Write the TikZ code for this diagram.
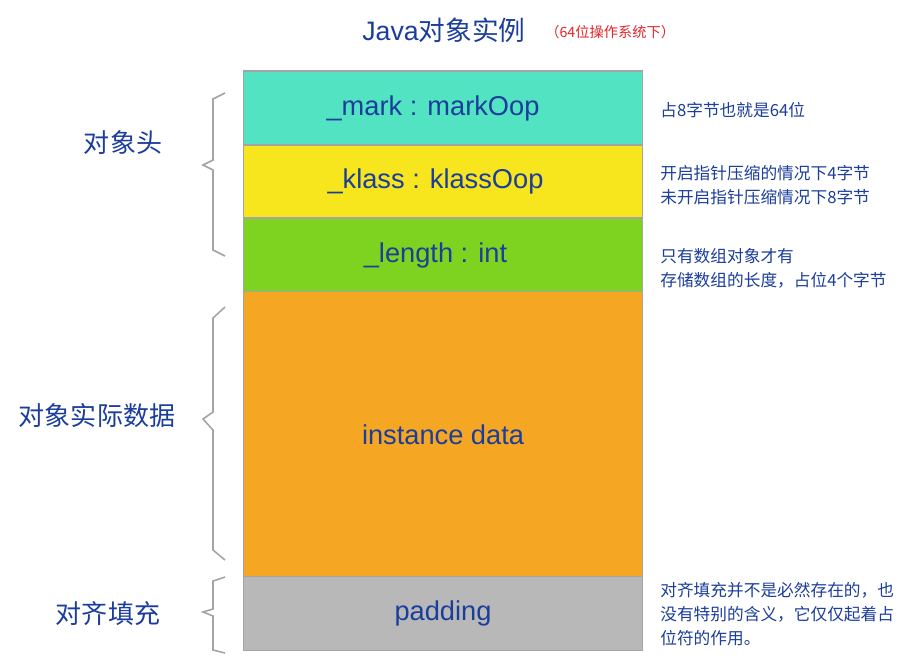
\documentclass[tikz,border=0pt]{standalone}
\usepackage{fontspec}
\setmainfont{Liberation Sans}
\newfontfamily\cjk{Noto Sans CJK SC}
\usetikzlibrary{positioning}

\definecolor{inkblue}{HTML}{1B3D9B}
\definecolor{notered}{HTML}{E0262B}
\definecolor{edgegray}{HTML}{A4A4A4}
\definecolor{markfill}{HTML}{52E3C2}
\definecolor{klassfill}{HTML}{F7E51E}
\definecolor{lengthfill}{HTML}{7ED321}
\definecolor{datafill}{HTML}{F5A623}
\definecolor{padfill}{HTML}{B8B8B8}

\tikzset{
    row/.style={rectangle, draw=edgegray, line width=0.6pt, outer sep=0pt,
        minimum width=7.98cm, text=inkblue, font=\fontsize{15.5}{18}\selectfont},
    note/.style={anchor=west, inner sep=0pt, align=left, text=inkblue,
        font=\cjk\fontsize{9.5}{13.6}\selectfont},
    part/.style={text=inkblue, inner sep=0pt, font=\cjk\fontsize{14.8}{18}\selectfont},
    brace/.style={draw=edgegray, line width=0.9pt}
}

\begin{document}
\begin{tikzpicture}[x=0.02cm, y=-0.02cm]
    \useasboundingbox (0, 0) rectangle (918, 663);

    % title
    \node[text=inkblue, font=\fontsize{15.2}{18}\selectfont] (title) at (444, 30) {Java{\cjk 对象实例}};
    \node[text=notered, anchor=west, inner sep=0pt, font=\cjk\fontsize{8.1}{9}\selectfont] (bits) at (545, 32) {（64位操作系统下）};

    % object layout
    \node[row, fill=markfill, minimum height=1.48cm] (mark) at (443, 108) {\_mark : markOop\kern0.4cm};
    \node[row, fill=klassfill, minimum height=1.46cm, below=0pt of mark] (klass) {\_klass : klassOop\kern0.3cm};
    \node[row, fill=lengthfill, minimum height=1.48cm, below=0pt of klass] (length) {\_length : int\kern0.3cm};
    \node[row, fill=datafill, minimum height=5.70cm, below=0pt of length] (data) {instance data};
    \node[row, fill=padfill, minimum height=1.48cm, below=0pt of data] (padding) {padding};

    % notes
    \node[note] (marknote) at (660, 110) {占8字节也就是64位};
    \node[note] (klassnote) at (660, 185) {开启指针压缩的情况下4字节\\未开启指针压缩情况下8字节};
    \node[note] (lengthnote) at (660, 268) {只有数组对象才有\\存储数组的长度，占位4个字节};
    \node[note] (padnote) at (660, 614) {对齐填充并不是必然存在的，也\\没有特别的含义，它仅仅起着占\\位符的作用。};

    % parts
    \node[part] (header) at (123, 143) {对象头};
    \node[part] (body) at (97, 416) {对象实际数据};
    \node[part] (align) at (108, 614) {对齐填充};

    \draw[brace] (225, 93) -- (213, 99) -- (213, 160) -- (203, 165) -- (213, 170) -- (213, 250) -- (225, 256);
    \draw[brace] (225, 307) -- (213, 318) -- (213, 412) -- (203, 419) -- (213, 430) -- (213, 550) -- (225, 560);
    \draw[brace] (225, 577) -- (213, 581) -- (213, 609) -- (203, 612) -- (213, 616) -- (213, 650) -- (225, 653);
\end{tikzpicture}
\end{document}
